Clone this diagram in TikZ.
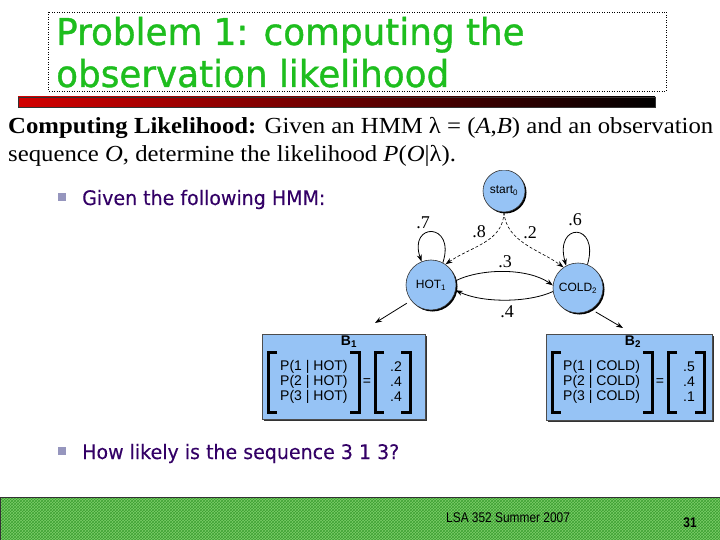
\documentclass[tikz,border=0pt]{standalone}
\usepackage{graphicx}
\usepackage{fontspec}
\setmainfont{Liberation Serif}
\newfontfamily\tahfont{DejaVuSans.ttf}[FakeBold=0.2]
\newfontfamily\titlefont{DejaVuSans.ttf}[FakeBold=1.0]
\newfontfamily\helv{Liberation Sans}
\usetikzlibrary{shadows,patterns,arrows.meta}
\definecolor{titlegreen}{RGB}{30,190,30}
\definecolor{bulletpurple}{RGB}{51,0,102}
\definecolor{bulletsq}{RGB}{150,150,190}
\definecolor{nodeblue}{RGB}{150,195,245}
\definecolor{footgreen}{RGB}{125,205,105}
\definecolor{foothatch}{RGB}{60,160,50}
\definecolor{barred}{RGB}{210,0,0}
\newcommand{\tsx}[1]{\scalebox{0.95}[1]{#1}}
\begin{document}
\begin{tikzpicture}[x=1pt,y=-1pt,
  state/.style={circle, fill=nodeblue, draw=black!80, line width=0.6pt, minimum size=50pt, inner sep=0pt,
    drop shadow={shadow xshift=1.5pt, shadow yshift=-1.5pt, fill=black, opacity=1},
    font=\helv\fontsize{12}{14}\selectfont},
  edge/.style={line width=0.8pt, -{Stealth[length=7pt,width=5pt]}},
  dedge/.style={edge, densely dashed, line width=0.6pt},
  prob/.style={font=\fontsize{18}{20}\selectfont, inner sep=0pt},
  bbox/.style={fill=nodeblue, draw=black!70, line width=0.6pt,
    drop shadow={shadow xshift=2pt, shadow yshift=-2pt, fill=black!80, opacity=1}},
  bracket/.style={line width=3pt, line cap=butt, line join=miter},
  btext/.style={font=\helv\fontsize{14}{15}\selectfont, align=left, inner sep=0pt},
  bsq/.style={fill=bulletsq, minimum size=8pt, inner sep=0pt},
  bullettext/.style={anchor=base west, text=bulletpurple, inner sep=0pt, font=\tahfont\fontsize{20}{24}\selectfont},
  deftext/.style={anchor=base west, inner sep=0pt, font=\fontsize{23}{26}\selectfont},
  titletext/.style={anchor=base west, text=titlegreen, inner sep=0pt, font=\titlefont\fontsize{37}{40}\selectfont}
]
\useasboundingbox (0,0) rectangle (720,540);
\fill[white] (0,0) rectangle (720,540);

% title
\draw[dotted, line width=0.5pt] (48,12) rectangle (666,91);
\node[titletext] (t1) at (56,45) {\scalebox{0.966}[1]{Problem 1: computing the}};
\node[titletext] (t2) at (56,87) {\scalebox{0.966}[1]{observation likelihood}};

% bar
\shade[left color=barred, right color=black] (18,97) rectangle (655,107);
\draw[black!80, line width=0.4pt] (18,97) rectangle (655,107);

% definition text
\node[deftext] (d1) at (8,134)
  {\scalebox{1.076}[1]{\textbf{Computing Likelihood:} Given an HMM λ = (\textit{A},\textit{B}) and an observation}};
\node[deftext] (d2) at (8,162)
  {\scalebox{1.076}[1]{sequence \textit{O}, determine the likelihood \textit{P}(\textit{O}|λ).}};

% bullets
\node[bsq] (s1) at (62,197) {};
\node[bullettext] (g1) at (82,205) {\tsx{Given the following HMM:}};
\node[bsq] (s2) at (62,451) {};
\node[bullettext] (g2) at (82,459) {\tsx{How likely is the sequence 3 1 3?}};

% HMM graph
\begin{scope}
\clip (0,171) rectangle (720,540);
\node[state, minimum size=42pt] (start) at (504,191) {start\textsubscript{0}};
\end{scope}
\node[state] (hot) at (431,285) {HOT\textsubscript{1}};
\node[state] (cold) at (578,288) {COLD\textsubscript{2}};

\draw[dedge] (start.south) .. controls (503,242) and (472,246) .. (hot.55);
\draw[dedge] (start.south) .. controls (506,242) and (540,250) .. (cold.125);
\draw[edge] (hot.62) .. controls (456,222) and (408,222) .. (hot.112);
\draw[edge] (cold.68) .. controls (600,222) and (554,222) .. (cold.118);
\draw[edge] (hot.10) .. controls (482,268) and (528,268) .. (cold.174);
\draw[edge] (cold.188) .. controls (528,303) and (482,303) .. (hot.348);

\coordinate (ha) at (375,323);
\coordinate (ca) at (623,328);
\draw[edge, shorten <=5pt] (hot.218) -- (ha);
\draw[edge, shorten <=5pt] (cold.302) -- (ca);

\node[prob] (p8) at (479,232) {.8};
\node[prob] (p2) at (530,233) {.2};
\node[prob] (p7) at (423,223) {.7};
\node[prob] (p6) at (575,220) {.6};
\node[prob] (p3) at (505,262) {.3};
\node[prob] (p4) at (507,312) {.4};

% B1 box
\node[bbox, minimum width=163pt, minimum height=85pt] (B1) at (343.5,376.5) {};
\node[font=\helv\bfseries\fontsize{14}{14}\selectfont, inner sep=0pt] (B1t) at (349,342) {B\textsubscript{1}};
\draw[bracket] (277,352) -- (268,352) -- (268,412) -- (277,412);
\draw[bracket] (350,352) -- (359,352) -- (359,412) -- (350,412);
\draw[bracket] (384,352) -- (375,352) -- (375,412) -- (384,412);
\draw[bracket] (401,352) -- (410,352) -- (410,412) -- (401,412);
\node[btext, anchor=west] (B1l) at (280,382) {P(1 | HOT)\\P(2 | HOT)\\P(3 | HOT)};
\node[btext] (B1e) at (367,382) {=};
\node[btext, anchor=west] (B1v) at (390,382) {.2\\.4\\.4};

% B2 box
\node[bbox, minimum width=166pt, minimum height=86pt] (B2) at (629,377) {};
\node[font=\helv\bfseries\fontsize{14}{14}\selectfont, inner sep=0pt] (B2t) at (633,342) {B\textsubscript{2}};
\draw[bracket] (561,352) -- (552,352) -- (552,412) -- (561,412);
\draw[bracket] (643,352) -- (652,352) -- (652,412) -- (643,412);
\draw[bracket] (677,352) -- (668,352) -- (668,412) -- (677,412);
\draw[bracket] (695,352) -- (704,352) -- (704,412) -- (695,412);
\node[btext, anchor=west] (B2l) at (563,382) {P(1 | COLD)\\P(2 | COLD)\\P(3 | COLD)};
\node[btext] (B2e) at (660,382) {=};
\node[btext, anchor=west] (B2v) at (683,382) {.5\\.4\\.1};

% footer
\fill[footgreen] (0,497) rectangle (720,540);
\fill[pattern=crosshatch, pattern color=foothatch] (0,497) rectangle (720,540);
\draw[black!80, line width=0.8pt] (0.4,540) -- (0.4,497.4) -- (720,497.4);
\node[anchor=base west, inner sep=0pt, font=\helv\fontsize{14}{16}\selectfont] (lsa) at (446,522) {\scalebox{0.85}[1]{LSA 352 Summer 2007}};
\node[anchor=base, inner sep=0pt, font=\helv\bfseries\fontsize{14}{16}\selectfont] (num) at (690,527) {\scalebox{0.85}[1]{31}};
\end{tikzpicture}
\end{document}
